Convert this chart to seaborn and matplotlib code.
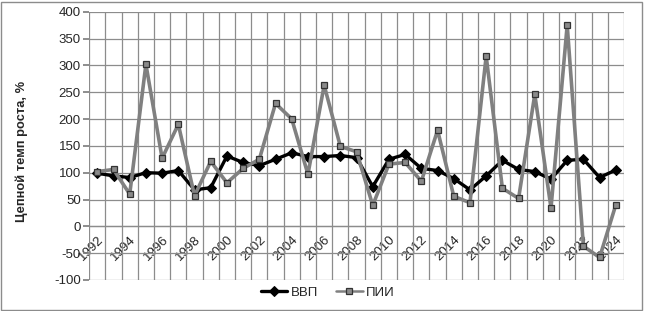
import matplotlib
matplotlib.use("Agg")
import matplotlib.pyplot as plt
import seaborn as sns
import pandas as pd
import numpy as np
from matplotlib.patches import Rectangle

years = list(range(1992, 2025))
vvp = [99, 94, 91, 100, 99, 104, 68, 72, 131, 119, 113, 125, 137, 130, 130, 132, 128,
       74, 125, 134, 108, 104, 89, 68, 94, 123, 106, 102, 88, 123, 125, 91, 105]
pii = [102, 106, 60, 302, 127, 190, 57, 121, 81, 108, 125, 229, 200, 97, 263, 149, 139,
       39, 116, 119, 84, 179, 56, 44, 317, 71, 52, 246, 34, 375, -37, -58, 40]
series_names = ["ВВП", "ПИИ"]
ylabel = "Цепной темп роста, %"

sns.set_theme(style="white")
plt.rcParams["font.family"] = ["Liberation Sans", "DejaVu Sans"]
plt.rcParams["axes.unicode_minus"] = False

df = pd.DataFrame({"year": years, "ВВП": vvp, "ПИИ": pii})

fig = plt.figure(figsize=(6.45, 3.11), dpi=100)
ax = fig.add_axes([0.1383, 0.0997, 0.8290, 0.8627])

sns.lineplot(data=df, x="year", y="ВВП", ax=ax, color="black", linewidth=2.4,
             marker="D", markersize=5.5, markeredgecolor="black", markerfacecolor="black",
             label=series_names[0], zorder=3)
sns.lineplot(data=df, x="year", y="ПИИ", ax=ax, color="#808080", linewidth=2.6,
             marker="s", markersize=4.5, markeredgecolor="#333333", markerfacecolor="#8a8a8a",
             markeredgewidth=0.9, label=series_names[1], zorder=4)

for s in ["top", "right", "left"]:
    ax.spines[s].set_visible(False)
ax.spines["bottom"].set_position(("data", 0))
ax.spines["bottom"].set_color("#8c8c8c")
ax.spines["bottom"].set_linewidth(0.9)

ax.set_xlim(1991.5, 2024.5)
ax.set_ylim(-100, 400)
ax.set_yticks(np.arange(-100, 401, 50))
ax.set_xticks(years[::2])
ax.set_xticks(np.arange(1991.5, 2025, 1.0), minor=True)
ax.set_xticklabels([str(y) for y in years[::2]], rotation=45, ha="right",
                   rotation_mode="anchor", fontsize=9.5)
ax.tick_params(axis="x", which="both", length=0, pad=5)
ax.tick_params(axis="y", which="major", length=4, color="#808080", direction="out",
               labelsize=9.5, left=True, pad=2)
ax.grid(True, which="major", axis="y", color="#8c8c8c", linewidth=0.9)
ax.grid(True, which="minor", axis="x", color="#8c8c8c", linewidth=0.9)
ax.set_axisbelow(True)

ax.set_xlabel("")
ax.set_ylabel(ylabel, fontsize=9.3, fontweight="bold")
ax.yaxis.set_label_coords(-0.114, 0.48)

ax.get_legend().remove()
handles, labels = ax.get_legend_handles_labels()
leg = fig.legend(handles, labels, loc="center", bbox_to_anchor=(0.508, 0.058), ncol=2,
                 frameon=False, fontsize=9.5, handlelength=2.0, columnspacing=1.4,
                 handletextpad=0.25)
lines = leg.get_lines()
lines[0].set_linewidth(2.4)
lines[1].set_linewidth(1.8)

fig.patches.append(Rectangle((0.002, 0.004), 0.993, 0.99, transform=fig.transFigure,
                             fill=False, edgecolor="#8c8c8c", linewidth=1.0))

fig.savefig("out.png", dpi=100)
